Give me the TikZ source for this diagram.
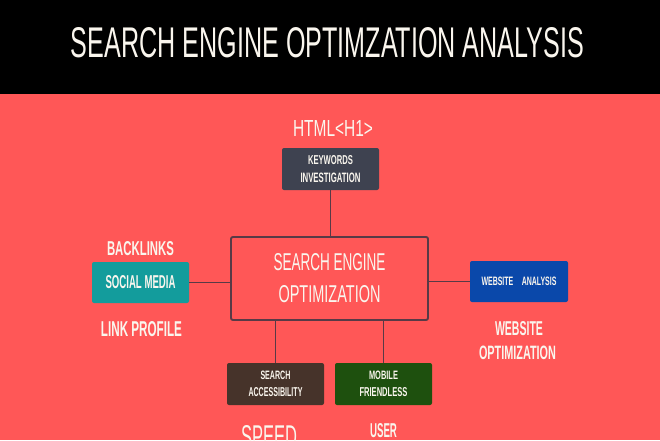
\documentclass[tikz,border=0pt]{standalone}
\usepackage{fontspec}
\setmainfont{Liberation Sans}
\usepackage{graphicx}
\usepackage{xcolor}
\definecolor{bgred}{RGB}{255,87,87}
\definecolor{edge}{RGB}{88,58,70}
\definecolor{paper}{RGB}{250,246,238}
\definecolor{slate}{RGB}{62,66,80}
\definecolor{socialteal}{RGB}{19,156,156}
\definecolor{webblue}{RGB}{10,72,170}
\definecolor{accessbrown}{RGB}{70,51,42}
\definecolor{mobilegreen}{RGB}{30,80,14}
\newcommand{\fitcaps}[3]{\resizebox{#1pt}{#2pt}{#3}}

\begin{document}
\begin{tikzpicture}[x=1pt, y=-1pt,
    tag/.style={text=paper, inner sep=0pt, font=\bfseries},
    box/.style={rounded corners=2pt, inner sep=0pt, text=paper,
        minimum width=97pt, minimum height=42pt, align=center,
        font=\fontsize{9}{17.5}\selectfont\bfseries},
    link/.style={draw=edge, line width=1.9pt}]
    \useasboundingbox (0,0) rectangle (660,440);
    \clip (0,0) rectangle (660,440);
    \fill [black] (0,0) rectangle (660,94);
    \fill [bgred] (0,94) rectangle (660,440);
    \node [text=paper, inner sep=0pt] (title) at (327.5,43)
        {\fitcaps{513}{30}{SEARCH ENGINE OPTIMZATION ANALYSIS}};
    % boxes
    \node [box, fill=slate] (kw) at (330.5,169)
        {\fitcaps{45}{9}{KEYWORDS}\\\fitcaps{60}{9.5}{INVESTIGATION}};
    \node [box, fill=bgred, draw=edge, line width=1.9pt, minimum width=197pt,
        minimum height=83pt, font=\fontsize{17}{32}\selectfont] (seo) at (329.5,278.5)
        {\fitcaps{112}{17}{SEARCH ENGINE}\\\fitcaps{102}{17}{OPTIMIZATION}};
    \node [box, fill=socialteal, minimum height=41pt] (social) at (140.5,282.5)
        {\fitcaps{70}{13}{SOCIAL MEDIA}};
    \node [box, fill=webblue, minimum width=98pt, minimum height=41pt] (website) at (519,281.5)
        {\fitcaps{75}{8.5}{WEBSITE\hspace{1.2em}ANALYSIS}};
    \node [box, fill=accessbrown] (access) at (275.5,384)
        {\fitcaps{30}{8.5}{SEARCH}\\\fitcaps{54}{9}{ACCESSIBILITY}};
    \node [box, fill=mobilegreen] (mobile) at (383.5,384)
        {\fitcaps{29}{8.5}{MOBILE}\\\fitcaps{48}{9}{FRIENDLESS}};
    % connectors
    \draw [link] (kw.south) -- (kw.south |- seo.north);
    \draw [link] (social.east) -- (social.east -| seo.west);
    \draw [link] (seo.east |- website.west) -- (website.west);
    \draw [link] (access.north) -- (access.north |- seo.south);
    \draw [link] (mobile.north) -- (mobile.north |- seo.south);
    % labels
    \node [tag, font=\mdseries] (html) at (333,128) {\fitcaps{80}{16}{HTML<H1>}};
    \node [tag] (backlinks) at (140.5,249) {\fitcaps{67}{14}{BACKLINKS}};
    \node [tag] (linkprofile) at (141.5,329.5) {\fitcaps{81}{15}{LINK PROFILE}};
    \node [tag] (webtag) at (519,329) {\fitcaps{48}{14}{WEBSITE}};
    \node [tag] (opttag) at (517.5,352.5) {\fitcaps{77}{13.5}{OPTIMIZATION}};
    \node [tag, font=\mdseries, anchor=north] (speed) at (269,425) {\fitcaps{56}{22}{SPEED}};
    \node [tag, anchor=north] (user) at (383.5,423) {\fitcaps{27}{14}{USER}};
\end{tikzpicture}
\end{document}
